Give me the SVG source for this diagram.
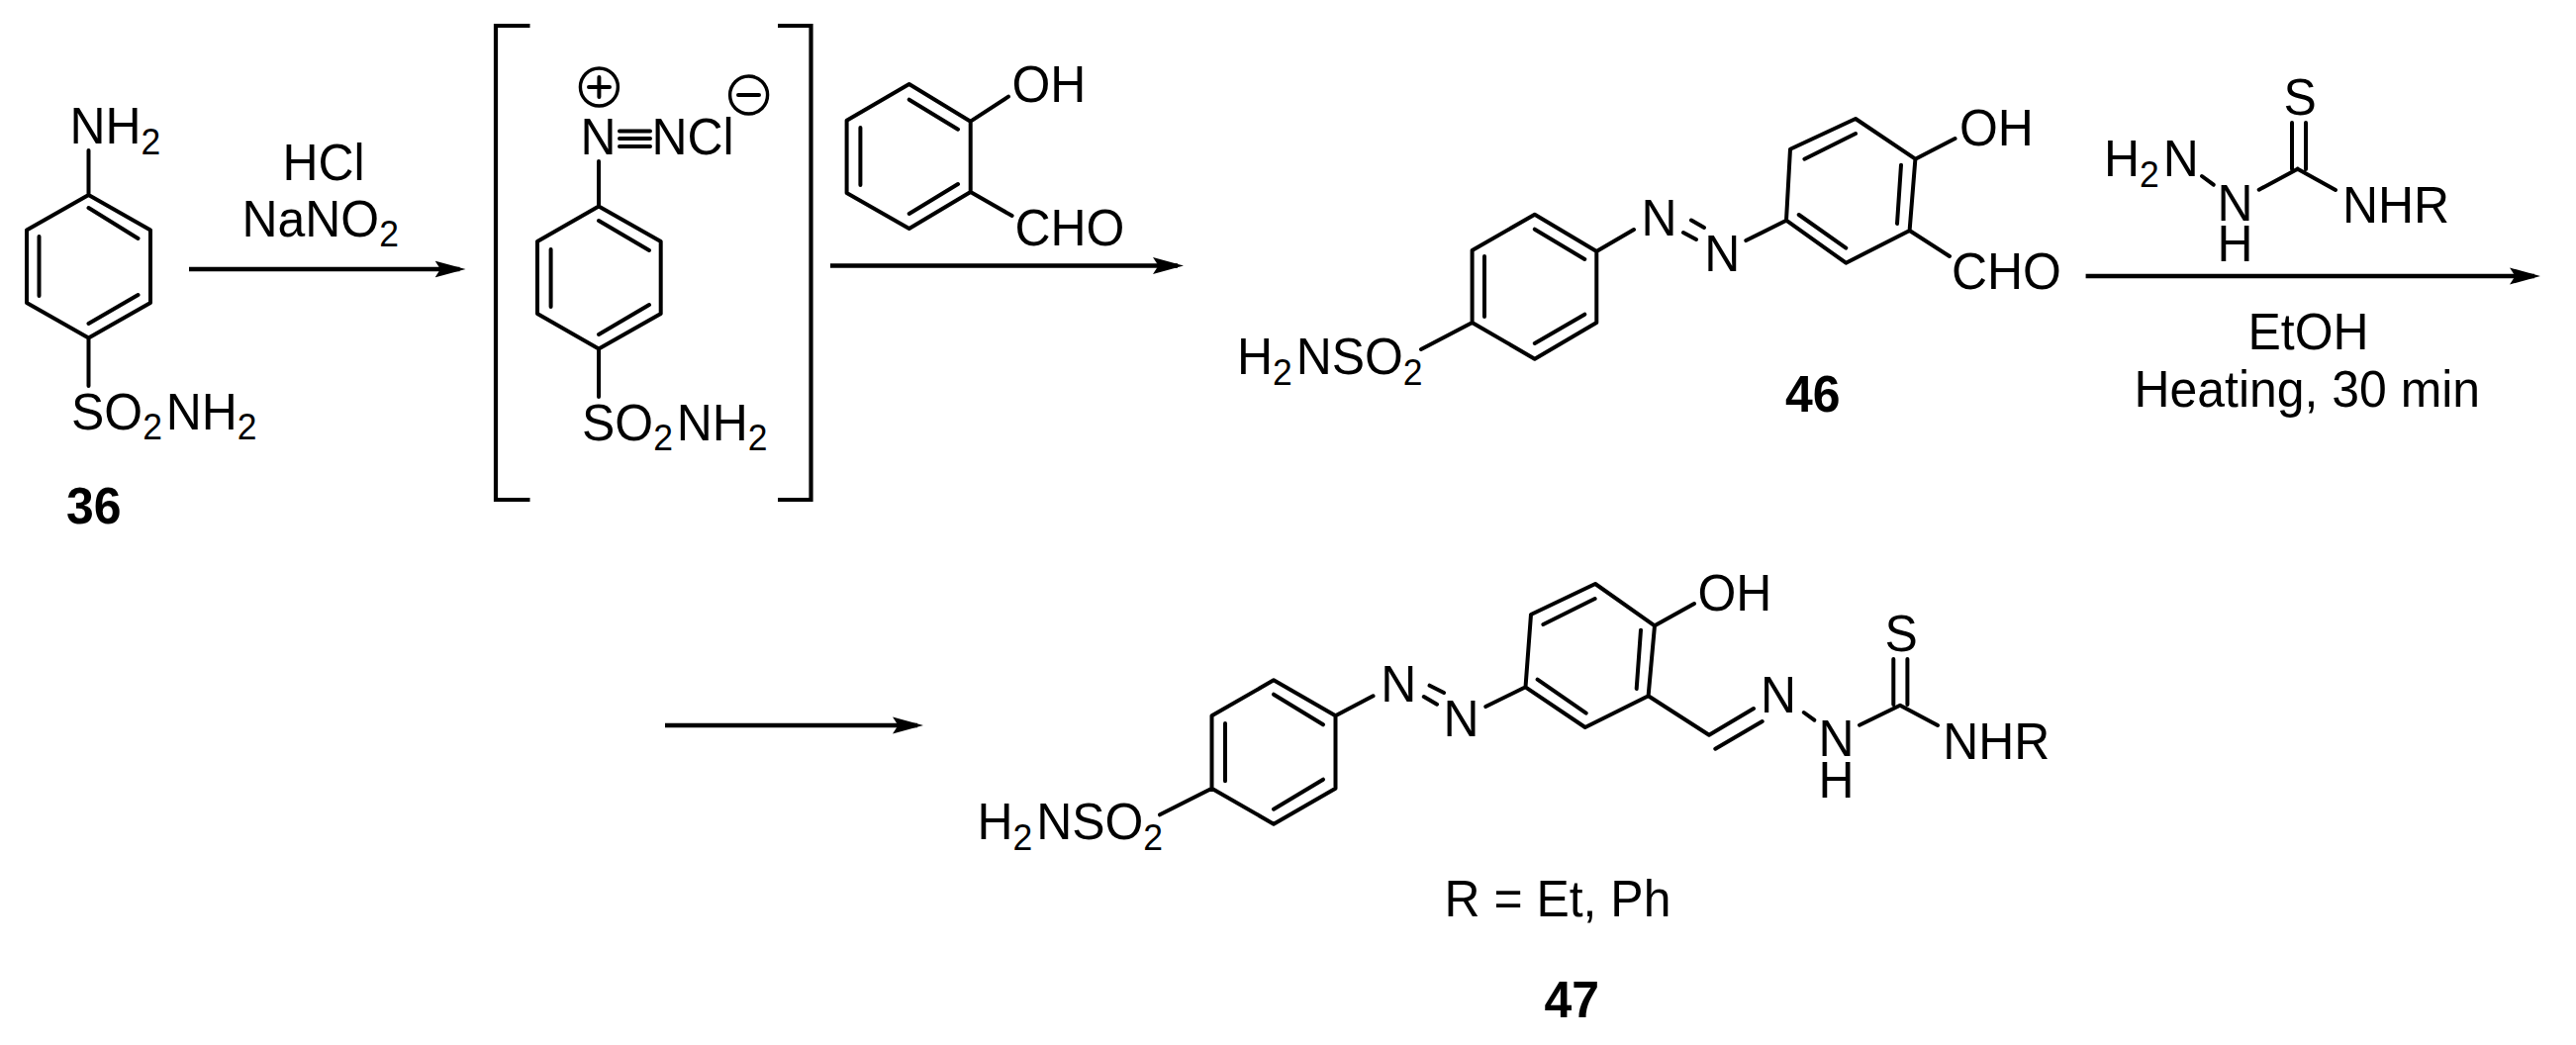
<svg xmlns="http://www.w3.org/2000/svg" width="2603" height="1056" viewBox="0 0 2603 1056">
<style>
text{font-family:"Liberation Sans",Arial,sans-serif;font-size:52px;fill:#000}
text.b{font-weight:bold}
tspan.s{font-size:37px}
path.m{fill:none;stroke:#000;stroke-width:4;stroke-linecap:round;stroke-linejoin:round}
path.br{fill:none;stroke:#000;stroke-width:4.2}
.conn line{stroke:#000;stroke-width:4.7;marker-end:url(#ah)}
</style>
<defs>
<marker id="ah" markerUnits="userSpaceOnUse" markerWidth="32" markerHeight="18" refX="25" refY="9" orient="auto"><path d="M31,9 L0,0.5 L5.5,9 L0,17.5z" fill="#000"/></marker>
</defs>
<rect width="2603" height="1056" fill="#fff"/>
<g id="compound-36">
<path class="m" d="M89.5,197 L152,232.6 V306 L89.5,341.5 L27,306 V232.6 Z M89.5,210 L139.5,241 M39.5,239 V299 M89.5,327 L139.5,298 M89.5,152 V197 M89.5,341.5 V390"/>
<text transform="matrix(.96 0 0 1 70.5 145)">NH<tspan class="s" dy="10.5">2</tspan></text>
<text transform="matrix(.96 0 0 1 72 433.5)">SO<tspan class="s" dy="10.5">2</tspan><tspan dx="4" dy="-10.5">NH</tspan><tspan class="s" dy="10.5">2</tspan></text>
<text class="b" transform="matrix(.96 0 0 1 67 529)">36</text>
</g>
<g id="reagent-1">
<text transform="matrix(.96 0 0 1 327 181.7)" text-anchor="middle">HCl</text>
<text transform="matrix(.96 0 0 1 244.5 238.5)">NaNO<tspan class="s" dy="10.5">2</tspan></text>
</g>
<g id="diazonium">
<path class="br" d="M535.5,26 H501 V505 H535.5 M786,26 H819.5 V505 H786"/>
<path class="m" d="M605,208.6 L667.7,244 V317 L605,352.6 L543,317 V244 Z M605,223 L656,253 M556.6,252 V310 M605,338 L656,308 M605,163 V208.6 M605,352.6 V401 M626,132.5 H657 M626,140 H657 M626,148 H657"/>
<text transform="matrix(.96 0 0 1 586.5 155.5)">N</text>
<text transform="matrix(.96 0 0 1 658.5 155.5)">NCl</text>
<circle cx="605.4" cy="88" r="19" fill="none" stroke="#000" stroke-width="3.4"/>
<path class="m" d="M595,88 H616 M605.4,78 V98"/>
<circle cx="756.6" cy="96" r="19" fill="none" stroke="#000" stroke-width="3.4"/>
<path class="m" d="M746,96 H767"/>
<text transform="matrix(.96 0 0 1 588 444.5)">SO<tspan class="s" dy="10.5">2</tspan><tspan dx="4" dy="-10.5">NH</tspan><tspan class="s" dy="10.5">2</tspan></text>
</g>
<g id="salicylaldehyde">
<path class="m" d="M918.7,85 L980.7,122.7 V194 L918.7,231 L855.6,195 V121.7 Z M918.7,100.7 L968,130.7 M869.4,129 V187 M918.7,216 L968,186 M980.7,122.7 L1019,97.7 M980.7,194 L1022.6,218"/>
<text transform="matrix(.96 0 0 1 1022.5 103)">OH</text>
<text transform="matrix(.96 0 0 1 1025.5 248)">CHO</text>
</g>
<g id="compound-46">
<path class="m" d="M1550.8,216.7 L1613.3,254 V326 L1550.8,362.7 L1487.6,326 V253 Z M1550.8,231.7 L1601.3,262 M1500,259 V320 M1550.8,347 L1601.3,317.7 M1613.3,254 L1651,232 M1487.6,326 L1436,353 M1701,235 L1714,242 M1709,222.5 L1722,230 M1764.3,243 L1805,222.7 M1875,120 L1935.4,160.7 L1929.6,233 L1865.3,265.7 L1805,222.7 L1809,150.7 Z M1875,135 L1823.4,160.7 M1921,166.7 L1917,226 M1865.3,250.7 L1817.7,217 M1935.4,160.7 L1975.5,140 M1929.6,233 L1970,259"/>
<text transform="matrix(.96 0 0 1 1250 378)">H<tspan class="s" dy="10.5">2</tspan><tspan dx="4" dy="-10.5">NSO</tspan><tspan class="s" dy="10.5">2</tspan></text>
<text transform="matrix(.96 0 0 1 1658.5 237.7)">N</text>
<text transform="matrix(.96 0 0 1 1722.3 274)">N</text>
<text transform="matrix(.96 0 0 1 1980 147)">OH</text>
<text transform="matrix(.96 0 0 1 1972 292)">CHO</text>
<text class="b" transform="matrix(.96 0 0 1 1804 415.7)">46</text>
</g>
<g id="thiosemicarbazide">
<path class="m" d="M2316,124 V171 M2330,124 V171 M2321.7,170.7 L2282.7,191.7 M2321.7,170.7 L2360,192 M2225,178 L2236.7,186.7"/>
<text transform="matrix(.96 0 0 1 2307.5 115.7)">S</text>
<text transform="matrix(.96 0 0 1 2126 178.3)">H<tspan class="s" dy="10.5">2</tspan><tspan dx="4" dy="-10.5">N</tspan></text>
<text transform="matrix(.96 0 0 1 2240.5 222.7)">N</text>
<text transform="matrix(.96 0 0 1 2240.5 264)">H</text>
<text transform="matrix(.96 0 0 1 2367 225)">NHR</text>
</g>
<g id="reagent-2">
<text transform="matrix(.96 0 0 1 2271.5 353)">EtOH</text>
<text transform="matrix(.96 0 0 1 2156.5 411)">Heating, 30 min</text>
</g>
<g id="compound-47">
<path class="m" d="M1287,687.3 L1349.5,723.3 V796.7 L1287,832.7 L1224.5,796.7 V723.3 Z M1287,701.7 L1337,732.3 M1238,731 V789.3 M1287,817.7 L1337,787.7 M1349.5,723.3 L1387.5,703.3 M1224.5,796.7 L1172,823.3 M1444.6,692.7 L1459,700 M1438.8,704 L1452,711.7 M1501.3,714 L1541.5,694.3 M1612,590 L1672,632.3 L1665.6,703.3 L1601.8,735 L1541.5,694.3 L1547,621 Z M1559.4,631 L1611.6,605 M1658,636.7 L1653.7,696 M1553.6,686.7 L1602.7,720.7 M1672,632.3 L1712,610 M1665.6,703.3 L1727,742.7 L1772,716 M1733.3,756.7 L1780.7,729 M1822.8,720 L1833.3,727.7 M1879,732.7 L1920,712.7 L1958,733 M1913.3,666 V712 M1927.4,666 V712"/>
<text transform="matrix(.96 0 0 1 987.5 848.3)">H<tspan class="s" dy="10.5">2</tspan><tspan dx="4" dy="-10.5">NSO</tspan><tspan class="s" dy="10.5">2</tspan></text>
<text transform="matrix(.96 0 0 1 1395.2 709.3)">N</text>
<text transform="matrix(.96 0 0 1 1458.5 744)">N</text>
<text transform="matrix(.96 0 0 1 1715.5 617)">OH</text>
<text transform="matrix(.96 0 0 1 1779 720)">N</text>
<text transform="matrix(.96 0 0 1 1837.5 764.3)">N</text>
<text transform="matrix(.96 0 0 1 1837.5 806)">H</text>
<text transform="matrix(.96 0 0 1 1904.5 657.7)">S</text>
<text transform="matrix(.96 0 0 1 1963.2 766.7)">NHR</text>
<text transform="matrix(.96 0 0 1 1459.5 925.5)">R = Et, Ph</text>
<text class="b" transform="matrix(.96 0 0 1 1560.5 1028)">47</text>
</g>
<g id="connectors" class="conn">
<line x1="191" y1="272" x2="464.5" y2="272"/>
<line x1="839" y1="268.5" x2="1190" y2="268.5"/>
<line x1="2107.6" y1="279" x2="2561" y2="279"/>
<line x1="672" y1="733" x2="927" y2="733"/>
</g>
</svg>
